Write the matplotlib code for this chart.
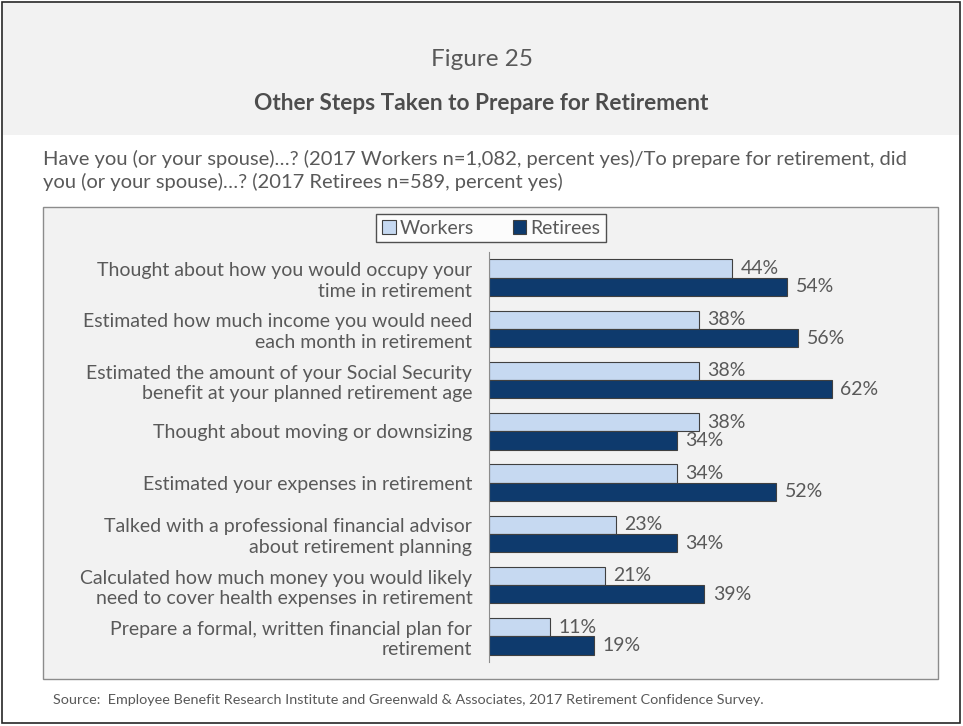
import numpy as np
import matplotlib.pyplot as plt
from matplotlib.patches import Rectangle

# -------------------------------------------------
# Data
# -------------------------------------------------
categories = [
    "Thought about how you would occupy your\ntime in retirement",
    "Estimated how much income you would need\neach month in retirement",
    "Estimated the amount of your Social Security\nbenefit at your planned retirement age",
    "Thought about moving or downsizing",
    "Estimated your expenses in retirement",
    "Talked with a professional financial advisor\nabout retirement planning",
    "Calculated how much money you would likely\nneed to cover health expenses in retirement",
    "Prepare a formal, written financial plan for\nretirement",
]
workers = [44, 38, 38, 38, 34, 23, 21, 11]
retirees = [54, 56, 62, 34, 52, 34, 39, 19]
series_names = ["Workers", "Retirees"]

# -------------------------------------------------
# Style
# -------------------------------------------------
plt.rcParams["font.family"] = ["Lato", "DejaVu Sans"]
txt = "#595959"
c_work = "#c6d9f1"
c_ret = "#0e3a6d"

W, H = 963, 726
fig = plt.figure(figsize=(W / 100, H / 100), dpi=100)

def fx(px):
    return px / W

def fy(py):
    return 1 - py / H

# outer frame and header panel
fig.patches.append(Rectangle((fx(2), fy(723)), fx(958), 721 / H, transform=fig.transFigure,
                             facecolor="white", edgecolor="#262626", linewidth=1.2, zorder=0))
fig.patches.append(Rectangle((fx(3), fy(135)), fx(956), 132 / H, transform=fig.transFigure,
                             facecolor="#f2f2f2", edgecolor="none", zorder=0))
# inner chart box
fig.patches.append(Rectangle((fx(43), fy(679)), fx(895), 472 / H, transform=fig.transFigure,
                             facecolor="#f2f2f2", edgecolor="#8c8c8c", linewidth=1.0, zorder=0))

fig.text(0.5, fy(60), "Figure 25", ha="center", va="center", fontsize=17.5, color=txt)
fig.text(0.5, fy(103), "Other Steps Taken to Prepare for Retirement", ha="center", va="center",
         fontsize=16.3, fontweight="bold", color="#4d4d4d")
fig.text(fx(43), fy(159), "Have you (or your spouse)…? (2017 Workers n=1,082, percent yes)/To prepare for retirement, did",
         ha="left", va="center", fontsize=14.5, color=txt)
fig.text(fx(43), fy(182), "you (or your spouse)…? (2017 Retirees n=589, percent yes)",
         ha="left", va="center", fontsize=14.5, color=txt)
fig.text(fx(53), fy(700), "Source:  Employee Benefit Research Institute and Greenwald & Associates, 2017 Retirement Confidence Survey.",
         ha="left", va="center", fontsize=10.4, color=txt)

# -------------------------------------------------
# Bars
# -------------------------------------------------
ax = fig.add_axes([fx(489), fy(662), fx(931 - 489), 410 / H])
ax.set_facecolor("none")
ax.set_zorder(2)

y = np.arange(len(categories))
h = 0.357
b1 = ax.barh(y - h / 2, workers, height=h, color=c_work, edgecolor="#404040", linewidth=0.8,
             label=series_names[0])
b2 = ax.barh(y + h / 2, retirees, height=h, color=c_ret, edgecolor="#404040", linewidth=0.8,
             label=series_names[1])

for bars in (b1, b2):
    for r in bars:
        ax.annotate(f"{r.get_width():.0f}%", (r.get_width(), r.get_y() + r.get_height() / 2),
                    xytext=(6, 0), textcoords="offset points", ha="left", va="center",
                    fontsize=14, color=txt)

ax.set_xlim(0, 80)
ax.set_ylim(len(categories) - 0.5, -0.5)
ax.set_yticks(y)
ax.set_yticklabels(categories, fontsize=14, color=txt, linespacing=1.25)
ax.tick_params(axis="y", length=0, pad=12)
ax.set_xticks([])
for s in ("top", "right", "bottom"):
    ax.spines[s].set_visible(False)
ax.spines["left"].set_color("#8c8c8c")

leg = fig.legend(handles=[b1, b2], loc="center", bbox_to_anchor=(fx(491), fy(228)), ncol=2,
                 frameon=True, fancybox=False, fontsize=14, handlelength=0.7, handleheight=0.7,
                 handletextpad=0.2, columnspacing=2.0, borderpad=0.3, borderaxespad=0)
leg.get_frame().set_edgecolor("#262626")
leg.get_frame().set_linewidth(1.0)
leg.set_zorder(3)
for t in leg.get_texts():
    t.set_color(txt)

fig.savefig("out.png", dpi=100)
